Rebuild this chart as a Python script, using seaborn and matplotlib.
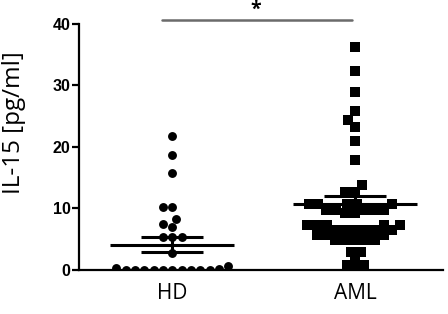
import matplotlib
matplotlib.use("Agg")
import matplotlib.pyplot as plt
import seaborn as sns
import numpy as np
import pandas as pd

categories = ["HD", "AML"]
hd_values = [21.8, 18.7, 15.7, 10.3, 10.3, 8.3, 7.4, 7.0, 5.3, 5.3, 5.3, 2.7,
             0.6, 0.3, 0.2, 0.0, 0.0, 0.0, 0.0, 0.0, 0.0, 0.0, 0.0, 0.0, 0.0]
aml_values = [36.2, 32.4, 29.0, 25.8, 24.3, 23.2, 20.9, 17.9, 13.8, 12.7, 12.7,
              10.8, 10.8, 10.8, 10.8, 10.8, 9.8, 9.8, 9.8, 9.8, 9.8, 9.3, 9.3,
              7.3, 7.3, 7.3, 7.3, 7.3, 6.5, 6.5, 6.5, 6.5, 6.5, 6.5, 5.7, 5.7, 5.7,
              4.9, 4.9, 4.9, 4.9, 4.9, 3.0, 3.0, 1.6, 0.8, 0.8, 0.0]
group_means = [4.1, 10.8]
group_sems = [1.25, 1.3]
y_ticks = [0, 10, 20, 30, 40]
y_label = "IL-15 [pg/ml]"
sig_label = "*"

sns.set_style("ticks")
plt.rcParams["font.family"] = ["Open Sans", "DejaVu Sans"]
plt.rcParams["text.color"] = "black"
plt.rcParams["axes.labelcolor"] = "black"
plt.rcParams["xtick.color"] = "black"
plt.rcParams["ytick.color"] = "black"
plt.rcParams["axes.edgecolor"] = "black"

df = pd.DataFrame({
    "group": ["HD"] * len(hd_values) + ["AML"] * len(aml_values),
    "value": hd_values + aml_values,
})

fig = plt.figure(figsize=(4.48, 3.14), dpi=100)
ax = fig.add_axes([0.176, 0.140, 0.813, 0.784])

sns.swarmplot(data=df[df.group == "HD"], x="group", y="value", order=categories,
              marker="o", color="black", size=6.4, linewidth=0, ax=ax, warn_thresh=1)
sns.swarmplot(data=df[df.group == "AML"], x="group", y="value", order=categories,
              marker="s", color="black", size=6.8, linewidth=0, ax=ax, warn_thresh=1)

for i, (m, sem) in enumerate(zip(group_means, group_sems)):
    ax.hlines(m, i - 0.34, i + 0.34, color="black", lw=2.2, zorder=5)
    ax.hlines([m - sem, m + sem], i - 0.17, i + 0.17, color="black", lw=2.2, zorder=5)
    ax.vlines(i, m - sem, m + sem, color="black", lw=2.2, zorder=5)

# significance bar
ax.plot([-0.055, 0.985], [40.65, 40.65], color="#6b6b6b", lw=1.8, clip_on=False)
ax.text(0.455, 42.3, sig_label, ha="center", va="center", fontsize=14,
        fontweight="bold", color="black", clip_on=False)

ax.set_xlim(-0.51, 1.48)
ax.set_ylim(0, 40)
ax.set_yticks(y_ticks)
ax.set_yticklabels([str(t) for t in y_ticks], fontfamily="Liberation Sans",
                   fontweight="bold", fontsize=11.5)
ax.set_xticks([0, 1])
ax.set_xticklabels(categories, fontsize=15)
ax.tick_params(axis="x", length=0, pad=9)
ax.tick_params(axis="y", length=5, width=1.6, pad=1)
ax.set_xlabel("")
ax.set_ylabel(y_label, fontsize=17.5)
ax.yaxis.set_label_coords(-0.145, 0.6)
for s in ["top", "right"]:
    ax.spines[s].set_visible(False)
for s in ["left", "bottom"]:
    ax.spines[s].set_linewidth(1.6)

fig.savefig("out.png", dpi=100)
